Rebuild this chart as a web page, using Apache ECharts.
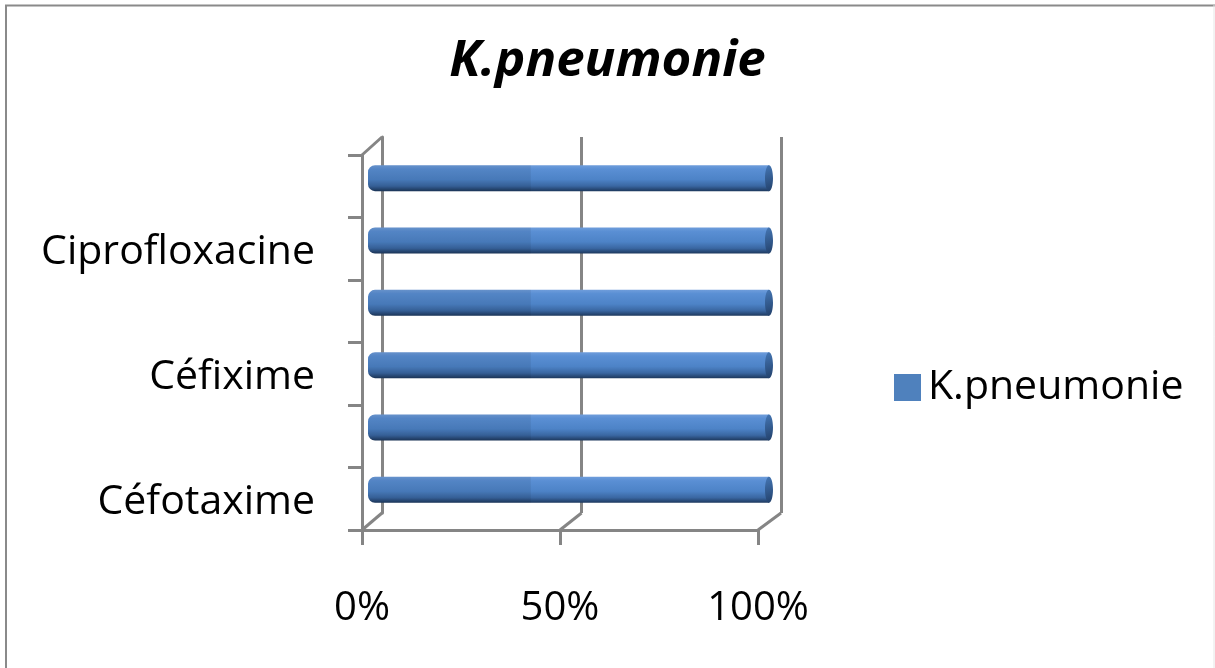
<!DOCTYPE html>
<html>
<head>
<meta charset="utf-8">
<title>K.pneumonie</title>
<script src="https://cdn.jsdelivr.net/npm/echarts@6/dist/echarts.min.js"></script>
<style>
  html, body { margin: 0; padding: 0; background: #fff; }
  #chart { width: 1215px; height: 668px; }
</style>
</head>
<body>
<div id="chart"></div>
<script>
// Antibiotics tested (only every other label fits on the axis)
const categories = ['Céfotaxime', '', 'Céfixime', '', 'Ciprofloxacine', ''];
// Share of resistant strains for each antibiotic (fraction of 1)
const values = [1, 1, 1, 1, 1, 1];
// Value-axis ticks
const xTicks = [0, 0.5, 1];
const seriesName = 'K.pneumonie';

const FONT = "'Open Sans', 'Noto Sans', sans-serif";
const AXIS_GREY = '#858585';
const BAR_BLUE = '#4F81BD';

// Front plane, back wall and mid-depth plane (where the cylinders sit);
// the label plane sits slightly lower, as the perspective drops the text
const front  = { left: 362, top: 155, width: 396, height: 375 };
const back   = { left: 382, top: 137, width: 399, height: 376 };
const mid    = { left: 372, top: 147, width: 397, height: 374 };
const labels = { left: 362, top: 159, width: 396, height: 375 };

const chart = echarts.init(document.getElementById('chart'), null, { renderer: 'canvas' });

const pct = v => Math.round(v * 100) + '%';

const bodyGrad = () => new echarts.graphic.LinearGradient(0, 0, 0, 1, [
  { offset: 0.00, color: '#6f9ddb' },
  { offset: 0.15, color: '#5a8fd4' },
  { offset: 0.55, color: '#4d83c7' },
  { offset: 0.80, color: '#3a67a2' },
  { offset: 1.00, color: '#1d385d' }
]);
const capGrad = () => new echarts.graphic.LinearGradient(0, 0, 1, 1, [
  { offset: 0, color: '#4577b5' },
  { offset: 1, color: '#22406a' }
]);

const data = values.map((v, i) => [v, i]);

chart.setOption({
  backgroundColor: '#fff',
  animation: false,
  title: {
    text: seriesName,
    left: 'center',
    top: 31,
    textStyle: { fontFamily: FONT, fontSize: 51, fontWeight: 'bold', fontStyle: 'italic', color: '#000' }
  },
  legend: {
    left: 889,
    top: 362,
    itemWidth: 27,
    itemHeight: 27,
    data: [{ name: seriesName, icon: 'rect', itemStyle: { color: BAR_BLUE } }],
    textStyle: { fontFamily: FONT, fontSize: 41, color: '#000', padding: [0, 0, 0, 2] }
  },
  grid: [
    Object.assign({ containLabel: false }, front),
    Object.assign({ containLabel: false }, back),
    Object.assign({ containLabel: false }, mid),
    Object.assign({ containLabel: false }, labels)
  ],
  xAxis: [
    {
      gridIndex: 0, type: 'value', min: 0, max: 1, interval: 0.5,
      axisLine: { show: true, lineStyle: { color: AXIS_GREY, width: 3 } },
      axisTick: { show: true, length: 15, lineStyle: { color: AXIS_GREY, width: 3 } },
      splitLine: { show: false },
      axisLabel: { fontFamily: FONT, fontSize: 40, color: '#000', margin: 59, formatter: pct }
    },
    {
      gridIndex: 1, type: 'value', min: 0, max: 1, interval: 0.5,
      axisLine: { show: false }, axisTick: { show: false }, axisLabel: { show: false },
      splitLine: { show: true, lineStyle: { color: AXIS_GREY, width: 3 } }
    },
    { gridIndex: 2, type: 'value', min: 0, max: 1, show: false },
    { gridIndex: 3, type: 'value', min: 0, max: 1, show: false }
  ],
  yAxis: [
    {
      gridIndex: 0, type: 'category', data: categories,
      axisLine: { show: true, lineStyle: { color: AXIS_GREY, width: 3 } },
      axisTick: { show: true, interval: 0, length: 14, lineStyle: { color: AXIS_GREY, width: 3 } },
      axisLabel: { show: false },
      splitLine: { show: false }
    },
    {
      gridIndex: 1, type: 'category', data: categories,
      axisLine: { show: true, lineStyle: { color: AXIS_GREY, width: 3 } },
      axisTick: { show: false }, axisLabel: { show: false }, splitLine: { show: false }
    },
    { gridIndex: 2, type: 'category', data: categories, show: false },
    {
      gridIndex: 3, type: 'category', data: categories,
      axisLine: { show: false }, axisTick: { show: false }, splitLine: { show: false },
      axisLabel: { interval: 1, fontFamily: FONT, fontSize: 41, color: '#000', margin: 47 }
    }
  ],
  series: [{
    name: seriesName,
    type: 'custom',
    xAxisIndex: 2,
    yAxisIndex: 2,
    z: 5,
    itemStyle: { color: BAR_BLUE },
    data: data,
    encode: { x: 0, y: 1 },
    renderItem: function (params, api) {
      const c = api.value(1);
      const start = api.coord([0, c]);
      const end = api.coord([api.value(0), c]);
      const shade = api.coord([0.4, c]);
      const h = 26, rx = 4;
      const y = start[1] - h / 2;
      return {
        type: 'group',
        children: [
          {
            type: 'rect',
            shape: { x: start[0] - rx, y: y, width: end[0] - start[0] + rx, height: h, r: [7, 0, 0, 7] },
            style: { fill: bodyGrad() }
          },
          {
            type: 'rect',
            shape: { x: start[0] - rx, y: y, width: shade[0] - start[0] + rx, height: h, r: [7, 0, 0, 7] },
            style: { fill: 'rgba(0,0,0,0.07)' }
          },
          {
            type: 'ellipse',
            shape: { cx: end[0], cy: start[1], rx: rx, ry: h / 2 },
            style: { fill: capGrad() }
          }
        ]
      };
    }
  }]
});

// Depth edges joining the front axes to the back wall, plus the outer frame
const frontBottom = front.top + front.height;
const backBottom = back.top + back.height;
const edges = xTicks.map(v => {
  const fx = chart.convertToPixel({ xAxisIndex: 0 }, v);
  const bx = chart.convertToPixel({ xAxisIndex: 1 }, v);
  return {
    type: 'line', z: 3,
    shape: { x1: fx, y1: frontBottom, x2: bx, y2: backBottom },
    style: { stroke: AXIS_GREY, lineWidth: 3 }
  };
});
edges.push({
  type: 'line', z: 3,
  shape: { x1: front.left, y1: front.top, x2: back.left, y2: back.top },
  style: { stroke: AXIS_GREY, lineWidth: 3 }
});

chart.setOption({
  graphic: edges.concat([
    { type: 'line', shape: { x1: 6, y1: 5, x2: 6, y2: 668 }, style: { stroke: '#8a8a8a', lineWidth: 2 } },
    { type: 'line', shape: { x1: 5, y1: 5.5, x2: 1215, y2: 5.5 }, style: { stroke: '#8a8a8a', lineWidth: 2 } },
    { type: 'line', shape: { x1: 1214, y1: 5, x2: 1214, y2: 668 }, style: { stroke: '#e6e6e6', lineWidth: 1 } }
  ])
});
</script>
</body>
</html>
